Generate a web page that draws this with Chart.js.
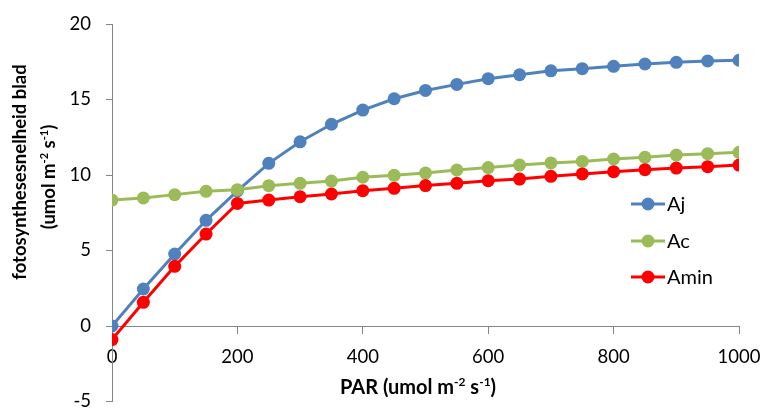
<!DOCTYPE html>
<html>
<head>
<meta charset="utf-8">
<script src="https://cdn.jsdelivr.net/npm/chart.js@4.4.1/dist/chart.umd.min.js"></script>
<style>
  html, body { margin: 0; padding: 0; background: #fff; }
  #wrap { width: 763px; height: 408px; }
</style>
</head>
<body>
<div id="wrap"><canvas id="fotoChart" width="763" height="408"></canvas></div>
<script>
// PAR (x) waarden
const parValues = [0, 50, 100, 150, 200, 250, 300, 350, 400, 450, 500,
                   550, 600, 650, 700, 750, 800, 850, 900, 950, 1000];

// series
const aj = [0, 2.45, 4.77, 7.0, 8.95, 10.77, 12.2, 13.36, 14.3, 15.05, 15.6,
            16.0, 16.38, 16.64, 16.9, 17.04, 17.2, 17.35, 17.46, 17.55, 17.6];
const ac = [8.34, 8.48, 8.7, 8.92, 9.03, 9.29, 9.45, 9.6, 9.85, 9.98, 10.13,
            10.33, 10.49, 10.66, 10.8, 10.9, 11.06, 11.17, 11.32, 11.41, 11.5];
const amin = [-0.9, 1.57, 3.95, 6.09, 8.12, 8.34, 8.56, 8.74, 8.96, 9.12, 9.3,
              9.45, 9.62, 9.73, 9.91, 10.07, 10.22, 10.35, 10.46, 10.55, 10.66];

const seriesNames = ['Aj', 'Ac', 'Amin'];
const xTicks = [0, 200, 400, 600, 800, 1000];
const yTicks = [-5, 0, 5, 10, 15, 20];

const FONT = 'Lato, "Open Sans", sans-serif';
const AXIS_GREY = '#868686';

function toPoints(ys) {
    return parValues.map((x, i) => ({ x: x, y: ys[i] }));
}

// tekst met superscript stukjes
function drawRich(c, parts, cx, cy, size) {
    const supSize = Math.round(size * 0.62);
    let total = 0;
    parts.forEach(p => {
        c.font = 'bold ' + (p[1] ? supSize : size) + 'px ' + FONT;
        total += c.measureText(p[0]).width;
    });
    let x = cx - total / 2;
    c.textBaseline = 'alphabetic';
    c.textAlign = 'left';
    parts.forEach(p => {
        c.font = 'bold ' + (p[1] ? supSize : size) + 'px ' + FONT;
        c.fillText(p[0], x, cy + size * 0.35 - (p[1] ? size * 0.4 : 0));
        x += c.measureText(p[0]).width;
    });
}

const titlesAndLegend = {
    id: 'titlesAndLegend',
    afterDraw(chart) {
        const c = chart.ctx;
        c.save();
        c.fillStyle = '#000';

        // x-as titel
        drawRich(c, [['PAR (umol m', false], ['-2', true], [' s', false], ['-1', true], [')', false]], 418, 387, 20);

        // y-as titel (gedraaid)
        c.save();
        c.translate(20, 172);
        c.rotate(-Math.PI / 2);
        drawRich(c, [['fotosynthesesnelheid blad', false]], 0, 0, 18.5);
        c.restore();
        c.save();
        c.translate(49, 177);
        c.rotate(-Math.PI / 2);
        drawRich(c, [['(umol m', false], ['-2', true], [' s', false], ['-1', true], [')', false]], 0, 0, 18.5);
        c.restore();

        // legenda
        const rows = [204, 241, 277];
        chart.data.datasets.forEach((ds, i) => {
            const y = rows[i];
            c.strokeStyle = ds.borderColor;
            c.lineWidth = 3;
            c.beginPath();
            c.moveTo(631, y);
            c.lineTo(665, y);
            c.stroke();
            c.fillStyle = ds.backgroundColor;
            c.beginPath();
            c.arc(648, y, 6.5, 0, Math.PI * 2);
            c.fill();
            c.fillStyle = '#000';
            c.font = '20px ' + FONT;
            c.textAlign = 'left';
            c.textBaseline = 'middle';
            c.fillText(ds.label, 667, y + 1);
        });
        c.restore();
    }
};

const colors = ['#4F81BD', '#9BBB59', '#FF0000'];
const allSeries = [aj, ac, amin];

const ctx = document.getElementById('fotoChart');

new Chart(ctx, {
    type: 'line',
    data: {
        datasets: allSeries.map((s, i) => ({
            label: seriesNames[i],
            data: toPoints(s),
            borderColor: colors[i],
            backgroundColor: colors[i],
            borderWidth: 3,
            pointRadius: 6.5,
            pointBorderWidth: 0,
            pointHoverRadius: 6.5,
            tension: 0,
            order: 3 - i   // Amin bovenop
        }))
    },
    options: {
        responsive: false,
        animation: false,
        events: [],
        layout: {
            padding: { left: 62, right: 24, top: 24, bottom: 3 }
        },
        plugins: {
            legend: { display: false },
            tooltip: { enabled: false }
        },
        scales: {
            x: {
                type: 'linear',
                position: { y: 0 },
                min: 0,
                max: 1000,
                afterBuildTicks(scale) {
                    scale.ticks = xTicks.map(v => ({ value: v }));
                },
                afterFit(scale) {
                    // as ligt op y=0, neemt geen ruimte in
                    scale.height = 0;
                    scale.paddingLeft = 0;
                    scale.paddingRight = 0;
                },
                grid: {
                    drawOnChartArea: false,
                    tickLength: 7,
                    color: AXIS_GREY
                },
                border: { color: AXIS_GREY, width: 1 },
                ticks: {
                    padding: 13,
                    maxRotation: 0,
                    color: '#000',
                    font: { family: FONT, size: 18.5 },
                    callback: v => String(v)
                }
            },
            y: {
                min: -5,
                max: 20,
                afterBuildTicks(scale) {
                    scale.ticks = yTicks.map(v => ({ value: v }));
                },
                afterFit(scale) {
                    scale.width = 50;
                    scale.paddingTop = 0;
                    scale.paddingBottom = 0;
                },
                grid: {
                    drawOnChartArea: false,
                    tickLength: 6,
                    color: AXIS_GREY
                },
                border: { color: AXIS_GREY, width: 1 },
                ticks: {
                    padding: 15,
                    color: '#000',
                    font: { family: FONT, size: 18.5 },
                    callback: v => String(v)
                }
            }
        }
    },
    plugins: [titlesAndLegend]
});
</script>
</body>
</html>
